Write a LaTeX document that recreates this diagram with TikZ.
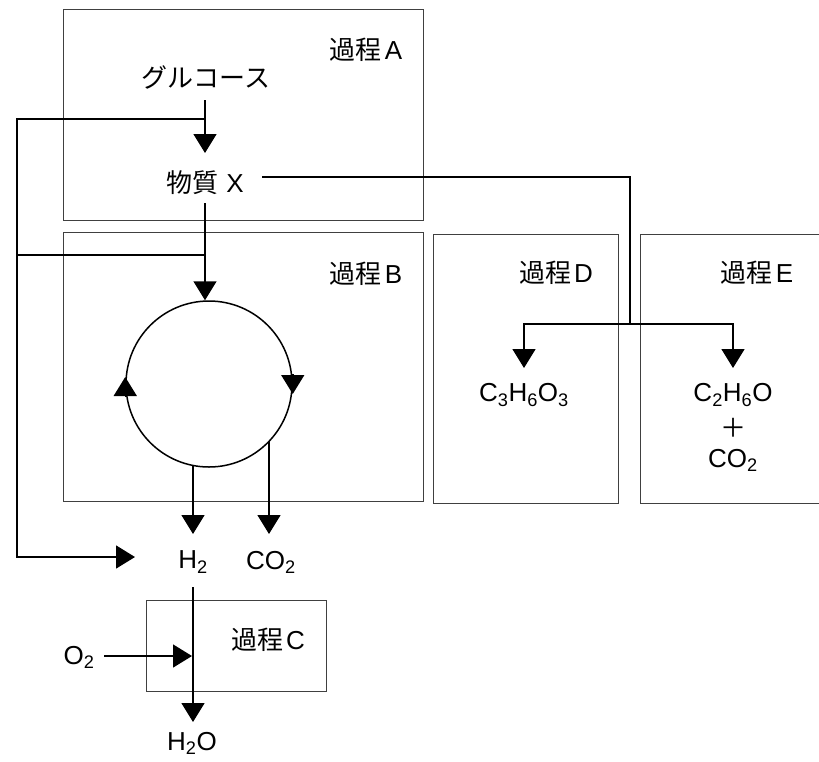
\documentclass[tikz,border=0pt]{standalone}
\usepackage{fontspec}
\setmainfont{Liberation Sans}
\newfontfamily\jp{Noto Sans CJK JP}
\usetikzlibrary{arrows.meta,calc}
\tikzset{
  box/.style={draw=black!75, line width=0.9pt},
  conn/.style={line width=1.5pt},
  arr/.style={conn, -{Triangle[width=23pt,length=19pt]}},
  lbl/.style={font=\fontsize{26}{30}\selectfont, inner sep=0pt},
}
\begin{document}
\begin{tikzpicture}[x=1pt,y=-1pt]
\useasboundingbox (0,0) rectangle (819,761);
\clip (0,0) rectangle (819,761);
% boxes
\draw[box] (63,9) rectangle (423,220);
\draw[box] (63,232) rectangle (423,501);
\draw[box] (433,234) rectangle (618,503);
\draw[box] (640,234) rectangle (840,503);
\draw[box] (146,600) rectangle (326,691);
% labels
\node[lbl] (pA) at (366,50) {{\jp 過程}\kern3pt A};
\node[lbl] (pB) at (366,274) {{\jp 過程}\kern3pt B};
\node[lbl] (pC) at (268,640) {{\jp 過程}\kern3pt C};
\node[lbl] (pD) at (556,273) {{\jp 過程}\kern3pt D};
\node[lbl] (pE) at (757,273) {{\jp 過程}\kern3pt E};
\node[lbl] (glu) at (206,77) {\jp グルコース};
\node[lbl] (X) at (205,183) {{\jp 物質}\kern8pt X};
\node[lbl] (lac) at (524,395) {C\textsubscript{3}H\textsubscript{6}O\textsubscript{3}};
\node[lbl] (eth) at (733,395) {C\textsubscript{2}H\textsubscript{6}O};
\node[lbl] (plus) at (733,428) {{\jp ＋}};
\node[lbl] (co2e) at (733,460) {CO\textsubscript{2}};
\node[lbl] (h2) at (193,562) {H\textsubscript{2}};
\node[lbl] (co2) at (271,562) {CO\textsubscript{2}};
\node[lbl] (o2) at (79,657) {O\textsubscript{2}};
\node[lbl] (h2o) at (192,743) {H\textsubscript{2}O};
% cycle
\node[circle, draw, line width=1.5pt, minimum size=166pt, inner sep=0pt] (cyc) at (209,384) {};
% coordinates
\coordinate (gS) at (205,100);
\coordinate (xN) at (205,153);
\coordinate (j1) at (205,119);
\coordinate (j2) at (205,255);
\coordinate (L1) at (17,119);
\coordinate (L3) at (17,255);
\coordinate (L2) at (17,557);
\coordinate (h2in) at (135,557);
\coordinate (xS) at (205,203);
\coordinate (xE) at (262,177);
\coordinate (R1) at (630,177);
\coordinate (R2) at (630,324);
\coordinate (D1) at (524,324);
\coordinate (dT) at (524,368);
\coordinate (E1) at (733,324);
\coordinate (eT) at (733,368);
\coordinate (b1) at (193,534);
\coordinate (b2) at (269,534);
\coordinate (h2S) at (193,587);
\coordinate (h2oN) at (193,722);
\coordinate (o2E) at (104,656);
\coordinate (o2T) at (192,656);
% connectors
\draw[arr] (gS) -- (xN);
\draw[arr] (j1) -- (L1) -- (L2) -- (h2in);
\draw[conn] (j2) -- (L3);
\draw[arr] (xS) -- (xS |- cyc.north);
\draw[conn] (xE) -- (R1) -- (R2);
\draw[arr] (R2) -- (D1) -- (dT);
\draw[arr] (R2) -- (E1) -- (eT);
\draw[arr] ($(cyc.west)+(0,13)$) -- ($(cyc.west)+(0,-7)$);
\draw[arr] ($(cyc.east)+(0,-10)$) -- ($(cyc.east)+(0,10)$);
\draw[arr] (b1 |- cyc.-100) -- (b1);
\draw[arr] (b2 |- cyc.-43) -- (b2);
\draw[arr] (h2S) -- (h2oN);
\draw[arr] (o2E) -- (o2T);
\end{tikzpicture}
\end{document}
